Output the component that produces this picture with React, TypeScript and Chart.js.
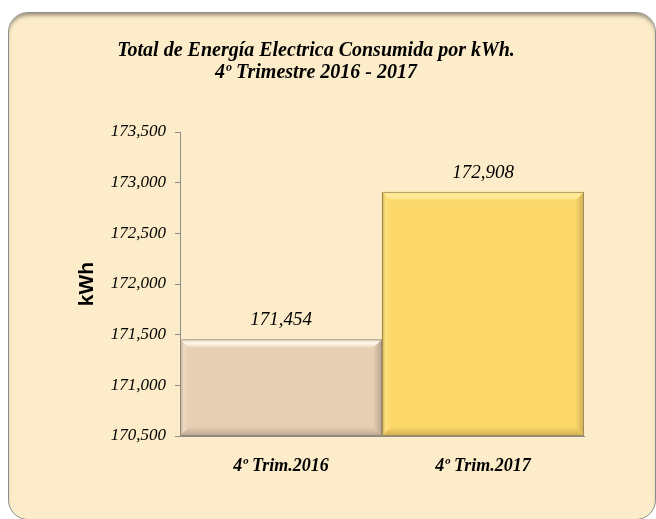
import React, { useEffect, useRef } from 'react';
import { Chart, registerables } from 'chart.js';

Chart.register(...registerables);

const categories = ['4º Trim.2016', '4º Trim.2017'];
const consumo = [171454, 172908];
const yMin = 170500;
const yMax = 173500;
const yStep = 500;
const titleLines = ['Total de Energía Electrica Consumida por kWh.', '4º Trimestre 2016 - 2017'];
const yAxisTitle = 'kWh';

const barBase = ['#E7CFB3', '#FDD86A'];
const barLight = ['#FFF8EE', '#FFEE9F'];
const barSide = ['#EDDAC4', '#FEE07E'];
const barDark = ['#B9A68F', '#CFAE52'];

const fmt = (v: number) => v.toLocaleString('en-US');

const W = 648;
const H = 508;

const titlePlugin = {
  id: 'fixedTitle',
  afterDraw(chart: any) {
    const ctx = chart.ctx;
    ctx.save();
    ctx.font = 'italic bold 20px "Liberation Serif"';
    ctx.fillStyle = '#000';
    ctx.textAlign = 'center';
    ctx.textBaseline = 'middle';
    ctx.fillText(titleLines[0], 308, 39);
    ctx.fillText(titleLines[1], 308, 61);
    ctx.restore();
  },
};

const bevelPlugin = {
  id: 'bevelBars',
  afterDatasetsDraw(chart: any) {
    const ctx = chart.ctx;
    const area = chart.chartArea;
    const meta = chart.getDatasetMeta(0);
    meta.data.forEach((el: any, i: number) => {
      const p = el.getProps(['x', 'y', 'base', 'width'], true);
      const l = p.x - p.width / 2;
      const r = p.x + p.width / 2;
      const t = p.y;
      const b = Math.min(p.base, area.bottom);
      const e = 9;
      ctx.save();
      const g = ctx.createLinearGradient(0, t, 0, t + e);
      g.addColorStop(0, barSide[i]);
      g.addColorStop(0.45, barLight[i]);
      g.addColorStop(1, barBase[i]);
      ctx.fillStyle = g;
      ctx.beginPath();
      ctx.moveTo(l, t);
      ctx.lineTo(r, t);
      ctx.lineTo(r - e, t + e);
      ctx.lineTo(l + e, t + e);
      ctx.closePath();
      ctx.fill();
      const gl = ctx.createLinearGradient(l, 0, l + e, 0);
      gl.addColorStop(0, barDark[i]);
      gl.addColorStop(0.4, barSide[i]);
      gl.addColorStop(1, barBase[i]);
      ctx.fillStyle = gl;
      ctx.beginPath();
      ctx.moveTo(l, t);
      ctx.lineTo(l + e, t + e);
      ctx.lineTo(l + e, b - e);
      ctx.lineTo(l, b);
      ctx.closePath();
      ctx.fill();
      const gr = ctx.createLinearGradient(r - e, 0, r, 0);
      gr.addColorStop(0, barBase[i]);
      gr.addColorStop(1, barDark[i]);
      ctx.fillStyle = gr;
      ctx.beginPath();
      ctx.moveTo(r, t);
      ctx.lineTo(r, b);
      ctx.lineTo(r - e, b - e);
      ctx.lineTo(r - e, t + e);
      ctx.closePath();
      ctx.fill();
      const gb = ctx.createLinearGradient(0, b - e, 0, b);
      gb.addColorStop(0, barBase[i]);
      gb.addColorStop(1, barDark[i]);
      ctx.fillStyle = gb;
      ctx.beginPath();
      ctx.moveTo(l, b);
      ctx.lineTo(r, b);
      ctx.lineTo(r - e, b - e);
      ctx.lineTo(l + e, b - e);
      ctx.closePath();
      ctx.fill();
      ctx.strokeStyle = 'rgba(120,110,95,0.55)';
      ctx.lineWidth = 1;
      ctx.strokeRect(l + 0.5, t + 0.5, r - l - 1, b - t - 1);
      ctx.font = 'italic 19px "Liberation Serif"';
      ctx.fillStyle = '#000';
      ctx.textAlign = 'center';
      ctx.textBaseline = 'alphabetic';
      ctx.fillText(fmt(consumo[i]), p.x, t - 14);
      ctx.restore();
    });
  },
};

export default function App() {
  const ref = useRef<HTMLCanvasElement | null>(null);

  useEffect(() => {
    if (!ref.current) return;
    Chart.defaults.font.family = '"Liberation Serif"';
    Chart.defaults.font.style = 'italic';
    const chart = new Chart(ref.current, {
      type: 'bar',
      data: {
        labels: categories,
        datasets: [
          {
            data: consumo,
            backgroundColor: barBase,
            borderWidth: 0,
            barPercentage: 1,
            categoryPercentage: 1,
          },
        ],
      },
      options: {
        responsive: false,
        animation: false,
        devicePixelRatio: 1,
        layout: { padding: { left: 60, top: 120, right: 72, bottom: 24 } },
        plugins: {
          legend: { display: false },
          title: { display: false },
          tooltip: { enabled: false },
        },
        scales: {
          x: {
            grid: { display: false },
            border: { display: true, color: '#8C8C8C', width: 1 },
            ticks: {
              color: '#000',
              font: { family: '"Liberation Serif"', size: 18, style: 'italic', weight: 'bold' },
              padding: 12,
              maxRotation: 0,
            },
            afterFit: (s: any) => {
              s.height = 60;
            },
          },
          y: {
            min: yMin,
            max: yMax,
            border: { display: true, color: '#8C8C8C', width: 1 },
            grid: {
              display: true,
              drawOnChartArea: false,
              drawTicks: true,
              tickLength: 5,
              color: '#8C8C8C',
            },
            ticks: {
              stepSize: yStep,
              color: '#000',
              padding: 9,
              font: () => ({ family: '"Liberation Serif"', size: 17, style: 'italic', weight: 'normal' }),
              callback: (v: any) => fmt(Number(v)),
            },
            title: {
              display: true,
              text: yAxisTitle,
              color: '#000',
              font: { family: '"Liberation Sans"', size: 21, weight: 'bold', style: 'normal' },
              padding: { top: 7, bottom: 0 },
            },
            afterFit: (s: any) => {
              s.width = 112;
            },
          },
        },
      },
      plugins: [bevelPlugin, titlePlugin],
    });
    return () => chart.destroy();
  }, []);

  return (
    <div>
      <div
        style={{
          position: 'fixed',
          left: 8,
          top: 12,
          width: W,
          height: H,
          boxSizing: 'border-box',
          borderRadius: 20,
          background: '#FCECC9',
          border: '1.5px solid #8E8E8E',
          boxShadow: 'inset 0 4px 4px -2px rgba(0,0,0,0.45)',
        }}
      />
      <canvas
        ref={ref}
        width={W}
        height={H}
        style={{ position: 'fixed', left: 8, top: 12, width: W, height: H }}
      />
    </div>
  );
}
